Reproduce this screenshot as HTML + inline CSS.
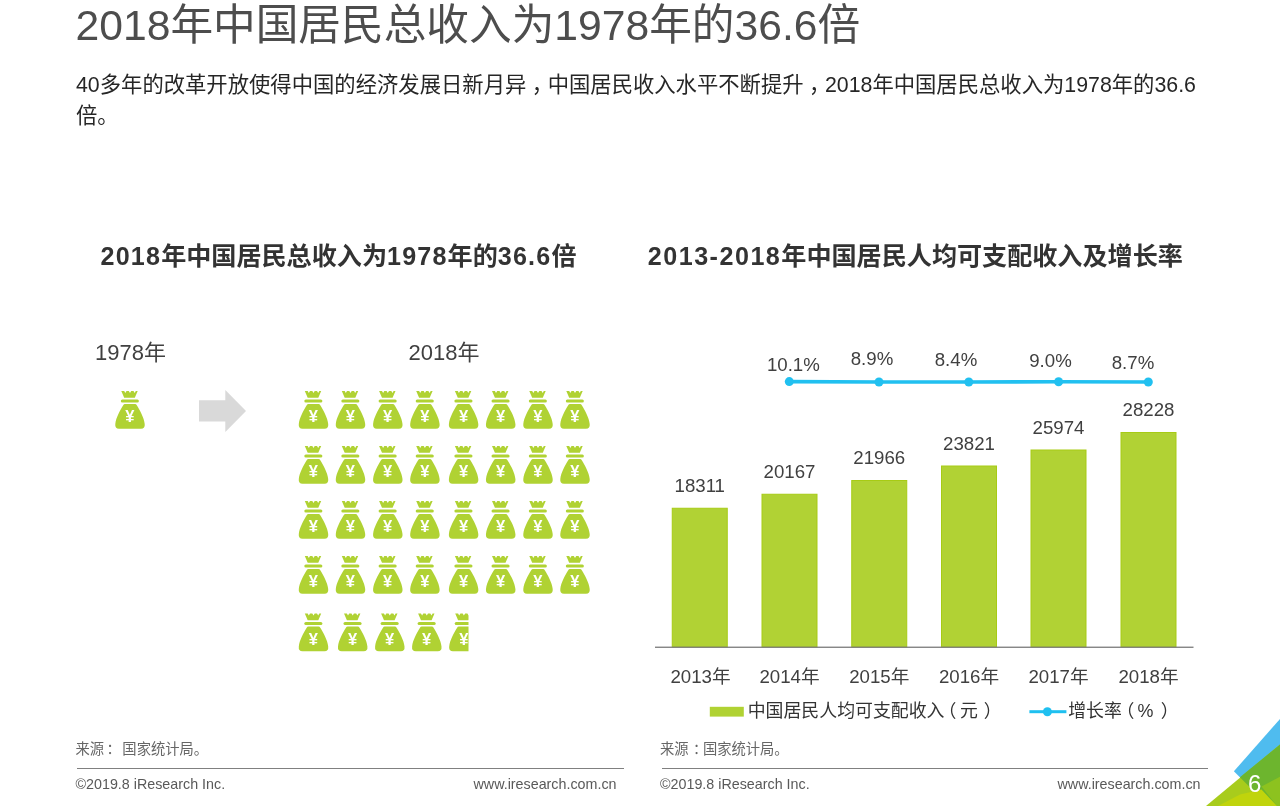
<!DOCTYPE html>
<html lang="zh-CN">
<head>
<meta charset="utf-8">
<title>2018年中国居民总收入为1978年的36.6倍</title>
<style>
html,body{margin:0;padding:0;background:#fff;}
body{width:1280px;height:806px;position:relative;overflow:hidden;font-family:"Liberation Sans","Noto Sans CJK SC",sans-serif;color:#333;}
.abs{position:absolute;white-space:nowrap;line-height:1;}
#title{left:75.5px;top:3.5px;font-size:42.67px;color:#4d4d4d;}
#sub{left:76px;top:70px;width:1135px;font-size:21.33px;line-height:30.5px;color:#262626;white-space:normal;position:absolute;}
.h2{font-weight:bold;font-size:25.1px;color:#333;}
.h2 .d{letter-spacing:1.2px;}
.lbl{font-size:18.67px;color:#404040;}
.ax{font-size:18.67px;color:#404040;}
.src{font-size:14.3px;color:#666;}
.ft{font-size:14.3px;color:#595959;}
.c{transform:translateX(-50%);}
.lg{font-size:17.9px;color:#333;}
.sh{position:relative;}
.hr{position:absolute;height:1.4px;background:#808080;}
</style>
</head>
<body>
<div id="title" class="abs">2018年中国居民总收入为1978年的36.6倍</div>
<div id="sub">40多年的改革开放使得中国的经济发展日新月异<span class="sh" style="left:5.5px">，</span>中国居民收入水平不断提升<span class="sh" style="left:5.5px">，</span>2018年中国居民总收入为1978年的36.6倍。</div>

<div class="abs h2" id="h2l" style="left:100.5px;top:243.7px;"><span class="d">2018</span>年中国居民总收入为<span class="d">1978</span>年的<span class="d">36.6</span>倍</div>
<div class="abs h2" id="h2r" style="left:647.8px;top:243.7px;"><span class="d" style="letter-spacing:1.5px">2013-2018</span>年中国居民人均可支配收入及增长率</div>

<div class="abs lbl" id="y1978" style="left:95px;top:342px;font-size:22px;">1978年</div>
<div class="abs lbl" id="y2018" style="left:408.5px;top:342px;font-size:22px;">2018年</div>

<svg id="gfx" class="abs" style="left:0;top:0;" width="1280" height="806" viewBox="0 0 1280 806">
<defs>
<g id="bag">
<path fill="#b0d233" d="M6.3,0 L9.2,0 L10.3,2.1 L11.5,0 L13.8,0 L15,2.1 L16.2,0 L18.5,0 L19.7,2.1 L20.8,0 L22.7,0 L19.8,6.8 L9.2,6.8 Z"/>
<rect fill="#b0d233" x="5.8" y="8.45" width="18.1" height="3.05" rx="1.52"/>
<path fill="#b0d233" d="M10,13 L20,13 Q21.2,13 21.8,14.2 C25,19.5 29,26.5 29.7,33 Q30.2,37.8 26,37.8 L4,37.8 Q-0.2,37.8 0.3,33 C1,26.5 5,19.5 8.2,14.2 Q8.8,13 10,13 Z"/>
<text x="14.9" y="31.1" text-anchor="middle" font-family="Liberation Sans, sans-serif" font-weight="bold" font-size="16.5" fill="#fff">¥</text>
</g>
<clipPath id="half"><rect x="440" y="600" width="28.5" height="60"/></clipPath>
</defs>
<!-- arrow -->
<path fill="#d9d9d9" d="M199,400.2 L225.3,400.2 L225.3,390 L246,411 L225.3,432 L225.3,421.6 L199,421.6 Z"/>
<use href="#bag" x="115" y="391"/>
<g id="bags">
<use href="#bag" x="298.5" y="391"/>
<use href="#bag" x="335.5" y="391"/>
<use href="#bag" x="372.8" y="391"/>
<use href="#bag" x="409.9" y="391"/>
<use href="#bag" x="448.6" y="391"/>
<use href="#bag" x="485.7" y="391"/>
<use href="#bag" x="523" y="391"/>
<use href="#bag" x="560" y="391"/>
<use href="#bag" x="298.5" y="446"/>
<use href="#bag" x="335.5" y="446"/>
<use href="#bag" x="372.8" y="446"/>
<use href="#bag" x="409.9" y="446"/>
<use href="#bag" x="448.6" y="446"/>
<use href="#bag" x="485.7" y="446"/>
<use href="#bag" x="523" y="446"/>
<use href="#bag" x="560" y="446"/>
<use href="#bag" x="298.5" y="501"/>
<use href="#bag" x="335.5" y="501"/>
<use href="#bag" x="372.8" y="501"/>
<use href="#bag" x="409.9" y="501"/>
<use href="#bag" x="448.6" y="501"/>
<use href="#bag" x="485.7" y="501"/>
<use href="#bag" x="523" y="501"/>
<use href="#bag" x="560" y="501"/>
<use href="#bag" x="298.5" y="556"/>
<use href="#bag" x="335.5" y="556"/>
<use href="#bag" x="372.8" y="556"/>
<use href="#bag" x="409.9" y="556"/>
<use href="#bag" x="448.6" y="556"/>
<use href="#bag" x="485.7" y="556"/>
<use href="#bag" x="523" y="556"/>
<use href="#bag" x="560" y="556"/>
<use href="#bag" x="298.5" y="613.5"/>
<use href="#bag" x="337.7" y="613.5"/>
<use href="#bag" x="374.8" y="613.5"/>
<use href="#bag" x="411.8" y="613.5"/>
<g clip-path="url(#half)"><use href="#bag" x="448.9" y="613.5"/></g>
</g>
<g id="chart">
<rect x="672.25" y="508.25" width="55" height="138.75" fill="#b1d234" stroke="#a7cb15" stroke-width="1"/>
<rect x="762.0" y="494.25" width="55" height="152.75" fill="#b1d234" stroke="#a7cb15" stroke-width="1"/>
<rect x="851.75" y="480.5" width="55" height="166.5" fill="#b1d234" stroke="#a7cb15" stroke-width="1"/>
<rect x="941.5" y="466.0" width="55" height="181.0" fill="#b1d234" stroke="#a7cb15" stroke-width="1"/>
<rect x="1031.0" y="450.0" width="55" height="197.0" fill="#b1d234" stroke="#a7cb15" stroke-width="1"/>
<rect x="1121.0" y="432.5" width="55" height="214.5" fill="#b1d234" stroke="#a7cb15" stroke-width="1"/>
<rect x="655" y="646.6" width="538.5" height="1.3" fill="#7a7a7a"/>
<polyline fill="none" stroke="#21c0f0" stroke-width="3.6" points="789.3,381.6 879,382 968.8,382 1058.6,381.8 1148.3,382"/>
<circle cx="789.3" cy="381.6" r="4.5" fill="#21c0f0"/>
<circle cx="879" cy="382" r="4.5" fill="#21c0f0"/>
<circle cx="968.8" cy="382" r="4.5" fill="#21c0f0"/>
<circle cx="1058.6" cy="381.8" r="4.5" fill="#21c0f0"/>
<circle cx="1148.3" cy="382" r="4.5" fill="#21c0f0"/>
<rect x="709.8" y="706.8" width="34" height="9.8" fill="#b0d233"/>
<rect x="1029.4" y="710.2" width="37" height="3" fill="#1fc0f0"/>
<circle cx="1047.4" cy="711.7" r="4.5" fill="#1fc0f0"/>
<polygon points="1233.9,771.3 1280,718.9 1280,806 1268.6,806" fill="#4fbcef"/>
<polygon points="1206,806 1280,744.5 1280,806" fill="#a8cc1c"/>
<polygon points="1239.9,777.3 1280,744.5 1280,806 1268.6,806" fill="#6db52e"/>
<polygon points="1261.5,786.5 1280,776.7 1280,806 1277,806" fill="#8dc21f"/>
<polygon points="1218,806 1240,794.5 1261.5,789.5 1277,806" fill="#c0d40c"/>
</g>
</svg>
<div class="abs lbl c" style="left:699.75px;top:476.75px;">18311</div>
<div class="abs lbl c" style="left:789.5px;top:462.75px;">20167</div>
<div class="abs lbl c" style="left:879.25px;top:449.00px;">21966</div>
<div class="abs lbl c" style="left:969px;top:434.50px;">23821</div>
<div class="abs lbl c" style="left:1058.5px;top:418.50px;">25974</div>
<div class="abs lbl c" style="left:1148.5px;top:401.00px;">28228</div>
<div class="abs lbl c" style="left:793.35px;top:356.40px;">10.1%</div>
<div class="abs lbl c" style="left:872px;top:350.20px;">8.9%</div>
<div class="abs lbl c" style="left:956px;top:350.80px;">8.4%</div>
<div class="abs lbl c" style="left:1050.5px;top:351.80px;">9.0%</div>
<div class="abs lbl c" style="left:1133px;top:354.00px;">8.7%</div>
<div class="abs ax c" style="left:700.5px;top:667.5px;">2013年</div>
<div class="abs ax c" style="left:789.5px;top:667.5px;">2014年</div>
<div class="abs ax c" style="left:879.25px;top:667.5px;">2015年</div>
<div class="abs ax c" style="left:969px;top:667.5px;">2016年</div>
<div class="abs ax c" style="left:1058.5px;top:667.5px;">2017年</div>
<div class="abs ax c" style="left:1148.5px;top:667.5px;">2018年</div>
<div class="abs lg" id="lg1" style="left:747.7px;top:703px;">中国居民人均可支配收入<span class="sh" style="left:-5.9px">（</span><span class="sh" style="left:-2.3px">元</span><span class="sh" style="left:3.5px">）</span></div>
<div class="abs lg" id="lg2" style="left:1068.2px;top:703px;">增长率<span class="sh" style="left:-5.5px">（</span><span class="sh" style="left:-2.2px">%</span><span class="sh" style="left:5px">）</span></div>
<div class="abs src" id="src1" style="left:75.5px;top:742px;">来源<span class="sh" style="left:2.5px">：</span> 国家统计局。</div>
<div class="abs src" id="src2" style="left:660px;top:742px;">来源<span class="sh" style="left:4.5px">：</span>国家统计局。</div>
<div class="hr" style="left:77px;top:768px;width:547px;"></div>
<div class="hr" style="left:662px;top:768px;width:546px;"></div>
<div class="abs ft" id="ft1" style="left:75.5px;top:776.8px;">©2019.8 iResearch Inc.</div>
<div class="abs ft" id="ft2" style="right:663.5px;top:776.8px;">www.iresearch.com.cn</div>
<div class="abs ft" id="ft3" style="left:660px;top:776.8px;">©2019.8 iResearch Inc.</div>
<div class="abs ft" id="ft4" style="right:79.5px;top:776.8px;">www.iresearch.com.cn</div>
<div class="abs" id="pg" style="left:1248px;top:772px;font-size:24px;color:#fff;">6</div>
</body>
</html>
